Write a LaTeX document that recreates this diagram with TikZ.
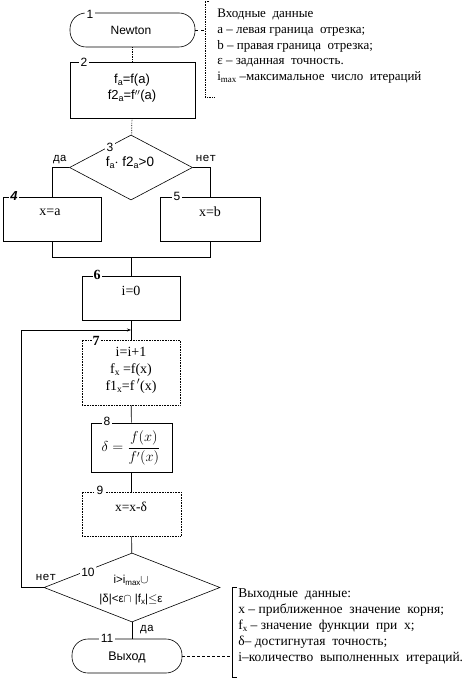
\documentclass[tikz,border=0pt]{standalone}
\usepackage{amsmath}
\usepackage{fontspec}
\setmainfont{Liberation Serif}
\newfontfamily\arialf{Liberation Sans}
\newfontfamily\courf{Liberation Mono}
\usetikzlibrary{arrows.meta,shapes.geometric}
\newcommand{\lowr}[2][8]{\raisebox{-0.3ex}{\fontsize{#1}{#1}\selectfont #2}}
\begin{document}
\begin{tikzpicture}[x=1pt,y=-1pt,line width=0.6pt,
  every node/.style={font=\fontsize{14}{16}\selectfont},
  blk/.style={draw,rectangle,inner sep=0pt},
  term/.style={draw,rectangle,rounded corners=16pt,inner sep=0pt},
  dia/.style={draw,diamond,inner sep=0pt},
  num/.style={fill=white,inner sep=1.5pt,font=\arialf\fontsize{12}{13}\selectfont},
  numb/.style={fill=white,inner sep=1pt,font=\bfseries\fontsize{14}{14}\selectfont},
  txt/.style={inner sep=0pt,align=center},
  yn/.style={inner sep=0pt,font=\courf\fontsize{11.5}{13}\selectfont},
  conn/.style={draw,line width=0.6pt},
  dconn/.style={draw,densely dotted,line width=0.7pt},
  cmt/.style={inner sep=0pt,align=left,anchor=north west}]
\useasboundingbox (0,0) rectangle (474,684);

% comments
\node[cmt,font=\fontsize{13}{15.7}\selectfont] (c1) at (217,9) {Входные\ \ данные\\a – левая граница\ \ отрезка;\\b – правая граница\ \ отрезка;\\ε – заданная\ \ точность.\\i\lowr[9]{max} –максимальное\ \ число\ \ итераций};
\coordinate (c1a) at (205,1);
\coordinate (c1b) at (205,97);
\draw[densely dotted,line width=0.7pt] (209,1) -- (c1a) -- (c1b) -- (215,97);

\node[cmt,font=\fontsize{13.5}{16}\selectfont] (c2) at (238,588) {Выходные\ \ данные:\\x – приближенное\ \ значение\ \ корня;\\f\lowr[9]{x} – значение\ \ функции\ \ при\ \ x;\\δ– достигнутая\ \ точность;\\i–количество\ \ выполненных\ \ итераций.};
\coordinate (c2a) at (232,587);
\coordinate (c2b) at (232,677);
\draw[line width=0.6pt] (237,587) -- (c2a) -- (c2b) -- (237,677);

% 1
\node[term,minimum width=125pt,minimum height=34pt] (t1) at (132.5,30) {};
\node[txt,font=\arialf\fontsize{12}{13}\selectfont] (t1t) at (131,30) {Newton};
\node[num] (n1) at (90,14) {1};
\draw[dashed,line width=0.6pt] (t1.east) -- (c1a |- t1.east);

% 2
\node[blk,minimum width=125pt,minimum height=56pt] (b2) at (132.5,90) {};
\node[txt,font=\arialf\fontsize{13}{14}\selectfont] (b2ta) at (132,80) {f\lowr[9]{a}=f(a)};
\node[txt,font=\arialf\fontsize{13}{14}\selectfont] (b2tb) at (132,96) {f2\lowr[9]{a}=f$''$(a)};
\node[num] (n2) at (84,62) {2};
\path[dconn] (t1) -- (b2);

% 3
\node[dia,minimum width=123pt,minimum height=65pt] (d3) at (131,167.5) {};
\node[txt,font=\arialf\fontsize{13.5}{14}\selectfont] (d3t) at (130,163) {f\lowr[9]{a}$\cdot$ f2\lowr[9]{a}>0};
\node[num] (n3) at (110,147) {3};
\path[dconn] (b2) -- (d3);
\node[yn] (da1) at (60,160) {да};
\node[yn] (net1) at (206,158) {нет};

% 4, 5
\node[blk,minimum width=98pt,minimum height=44pt] (b4) at (52,219) {};
\node[txt] (b4t) at (50,212) {x=a};
\node[inner sep=1pt,fill=white,font=\bfseries\itshape\arialf\fontsize{13}{13}\selectfont] (n4) at (14,196) {4};
\node[blk,minimum width=100pt,minimum height=44pt] (b5) at (210,219) {};
\node[txt] (b5t) at (210,212) {x=b};
\node[num] (n5) at (177,196) {5};
\coordinate (m1) at (52,257);
\coordinate (m2) at (210,257);
\coordinate (m3) at (131,257);
\path[conn] (d3.west) -| (b4.north);
\path[conn] (d3.east) -| (b5.north);
\path[conn] (b4.south) -- (m1) -- (m2) -- (b5.south);

% 6
\node[blk,minimum width=98pt,minimum height=44pt] (b6) at (131,298) {};
\node[txt] (b6t) at (131,291) {i=0};
\node[numb] (n6) at (97,275) {6};
\path[conn] (m3) -- (b6.north);

% 7
\node[blk,densely dotted,minimum width=98pt,minimum height=65pt] (b7) at (131,372.5) {};
\node[txt,font=\fontsize{14}{17}\selectfont] (b7t) at (131,370) {i=i+1\\f\lowr[9.5]{x} =f(x)\\f1\lowr[9.5]{x}=f\,$'$(x)};
\node[numb] (n7) at (96,341) {7};
\coordinate (j7) at (131,330);
\path[conn] (b6.south) -- (b7.north);

% 8
\node[blk,minimum width=81pt,minimum height=49pt] (b8) at (131.5,447.5) {};
\node[txt,font=\fontsize{13.5}{14}\selectfont] (b8t) at (131,448) {$\delta=\dfrac{f(x)}{f'(x)}$};
\node[num] (n8) at (107,421) {8};
\path[conn] (b7) -- (b8);

% 9
\node[blk,densely dotted,minimum width=99pt,minimum height=44pt] (b9) at (131.5,514) {};
\node[txt,font=\fontsize{13.5}{14}\selectfont] (b9t) at (131,507) {x=x-δ};
\node[num] (n9) at (100,490) {9};
\path[conn] (b8) -- (b9);

% 10
\node[dia,minimum width=176pt,minimum height=69pt] (d10) at (132,587.5) {};
\node[txt,font=\arialf\fontsize{11.5}{19}\selectfont] (d10t) at (131,590) {i>i\lowr{max}$\cup$\\|δ|<ε$\cap$ |f\lowr{x}|$\leq$ε};
\node[num] (n10) at (88,572) {10};
\path[conn] (b9) -- (d10);
\node[yn] (net2) at (46,577) {нет};
\node[yn] (da2) at (147,630) {да};
\coordinate (l1) at (21,587.5);
\coordinate (l2) at (21,330);
\path[draw,line width=0.6pt,-{Stealth[length=4pt,width=3pt]}] (d10.west) -- (l1) -- (l2) -- (j7);

% 11
\node[term,minimum width=110pt,minimum height=34pt] (t11) at (127,656) {};
\node[txt,font=\arialf\fontsize{12.5}{13}\selectfont] (t11t) at (127,657) {Выход};
\node[num] (n11) at (107,638) {11};
\path[conn] (d10.south) -- (d10.south |- t11.north);
\draw[densely dashed,line width=0.5pt] (t11.east) -- (c2a |- t11.east);
\end{tikzpicture}
\end{document}
